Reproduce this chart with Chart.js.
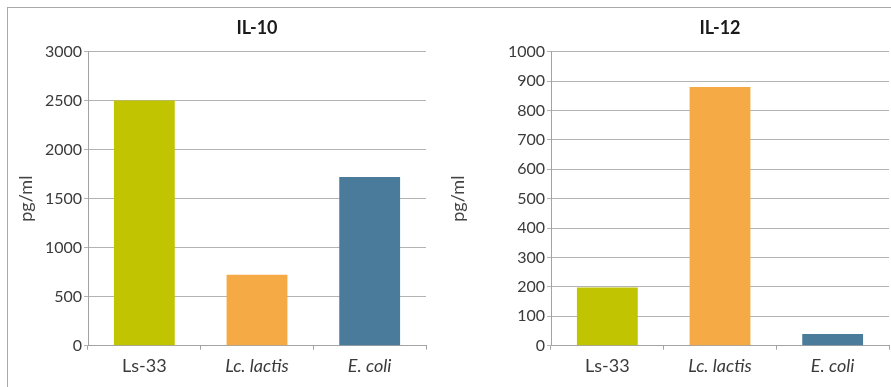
<!DOCTYPE html>
<html>
<head>
<meta charset="utf-8">
<script src="https://cdn.jsdelivr.net/npm/chart.js@4.4.1/dist/chart.umd.min.js"></script>
<style>
  html, body { margin: 0; padding: 0; background: #fff; }
  body { width: 891px; height: 387px; position: relative; overflow: hidden; }
  .frame { position: absolute; left: 7px; top: 7px; right: -2px; bottom: -2px;
           border-left: 1px solid #a9a9a9; border-top: 1px solid #a9a9a9; }
  .panel { position: absolute; top: 8px; height: 379px; }
  #p10 { left: 8px; width: 432px; }
  #p12 { left: 440px; width: 451px; }
</style>
</head>
<body>
<div class="frame"></div>
<div class="panel" id="p10"><canvas id="c10"></canvas></div>
<div class="panel" id="p12"><canvas id="c12"></canvas></div>
<script>
// Cytokine concentrations (pg/ml) per strain
const categories = ['Ls-33', 'Lc. lactis', 'E. coli'];
const il10Values = [2500, 725, 1720];
const il12Values = [198, 880, 40];
const barColors = ['#c1c400', '#f5aa45', '#4a7b9b'];
const il10Ticks = { max: 3000, step: 500 };
const il12Ticks = { max: 1000, step: 100 };

const FONT = 'Lato, "Open Sans", sans-serif';
const gridGrey = '#b3b3b3';
const axisGrey = '#a3a3a3';
const textGrey = '#3a3a3a';

function makeChart(id, title, values, ticks, yWidth, padRight) {
  return new Chart(document.getElementById(id), {
    type: 'bar',
    data: {
      labels: categories,
      datasets: [{
        data: values,
        backgroundColor: barColors,
        borderWidth: 0,
        categoryPercentage: 1,
        barPercentage: 0.54
      }]
    },
    options: {
      responsive: true,
      maintainAspectRatio: false,
      animation: false,
      layout: { padding: { left: 0, right: padRight, top: 0, bottom: 0 } },
      plugins: {
        legend: { display: false },
        tooltip: { enabled: false },
        title: {
          display: true,
          text: title,
          fullSize: false,
          color: '#1a1a1a',
          font: { family: FONT, size: 18, weight: 'bold' },
          padding: { top: 9, bottom: 13 }
        }
      },
      scales: {
        x: {
          grid: { drawOnChartArea: false, drawTicks: true, tickLength: 4, color: axisGrey, offset: true },
          border: { color: axisGrey, width: 1 },
          ticks: {
            color: textGrey,
            padding: 6,
            font: (ctx) => ({ family: FONT, size: 18, style: ctx.index > 0 ? 'italic' : 'normal' })
          },
          afterFit: (s) => { s.height = 41.3; }
        },
        y: {
          min: 0,
          max: ticks.max,
          grid: { color: gridGrey, tickLength: 4, lineWidth: 1 },
          border: { color: axisGrey, width: 1 },
          ticks: {
            stepSize: ticks.step,
            color: textGrey,
            padding: 2,
            font: { family: FONT, size: 16 },
            callback: (v) => String(v)
          },
          title: {
            display: true,
            text: 'pg/ml',
            color: '#444',
            font: { family: FONT, size: 18 },
            padding: { top: 7, bottom: 0 }
          },
          afterFit: (s) => { s.width = yWidth; }
        }
      }
    }
  });
}

makeChart('c10', 'IL-10', il10Values, il10Ticks, 80, 14);
makeChart('c12', 'IL-12', il12Values, il12Ticks, 111, 2);
</script>
</body>
</html>
